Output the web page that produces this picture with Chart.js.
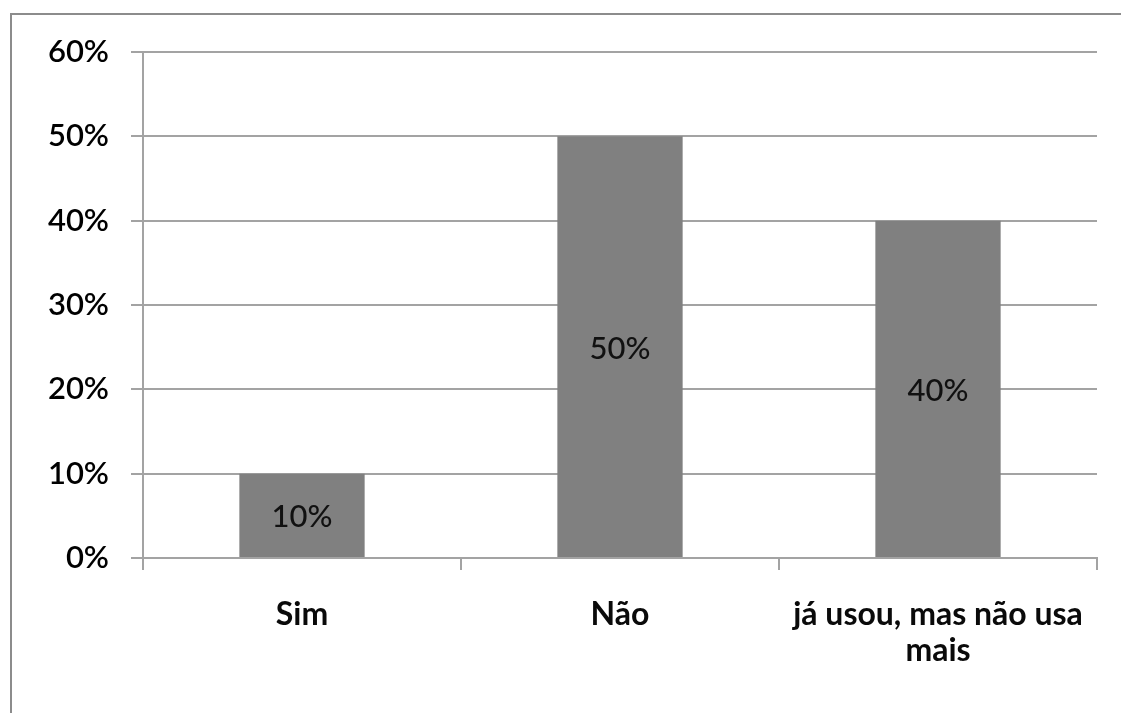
<!DOCTYPE html>
<html>
<head>
<meta charset="utf-8">
<script src="https://cdn.jsdelivr.net/npm/chart.js@4"></script>
<style>
  html, body { margin: 0; padding: 0; background: #fff; }
  #wrap { position: relative; width: 1121px; height: 713px; overflow: hidden; }
  #frame { position: absolute; left: 10px; top: 13px; width: 1200px; height: 800px;
           border: 2px solid #8c8c8c; box-sizing: border-box; }
  canvas { position: absolute; left: 0; top: 0; }
</style>
</head>
<body>
<div id="wrap">
  <div id="frame"></div>
  <canvas id="c" width="1121" height="713"></canvas>
</div>
<script>
// Answers and their shares (percent)
const categories = ['Sim', 'Não', ['já usou, mas não usa', 'mais']];
const shares = [10, 50, 40];
const yTicks = [0, 10, 20, 30, 40, 50, 60];

const FONT = 'Lato, "Open Sans", sans-serif';
const GRID = '#a3a3a3';

// Writes each value in the middle of its bar
const barValueLabels = {
  id: 'barValueLabels',
  afterDatasetsDraw(chart) {
    const ctx = chart.ctx;
    const meta = chart.getDatasetMeta(0);
    ctx.save();
    ctx.font = '500 31px ' + FONT;
    ctx.fillStyle = '#111';
    ctx.textAlign = 'center';
    ctx.textBaseline = 'middle';
    meta.data.forEach((bar, i) => {
      const p = bar.getProps(['x', 'y', 'base'], true);
      ctx.fillText(shares[i] + '%', p.x, (p.y + p.base) / 2 + 2);
    });
    ctx.restore();
  }
};

new Chart(document.getElementById('c'), {
  type: 'bar',
  data: {
    labels: categories,
    datasets: [{
      data: shares,
      backgroundColor: '#808080',
      borderWidth: 0,
      categoryPercentage: 1,
      barPercentage: 0.394
    }]
  },
  options: {
    responsive: false,
    animation: false,
    devicePixelRatio: 1,
    layout: { padding: { left: 0, top: 52, right: 24, bottom: 0 } },
    plugins: { legend: { display: false }, tooltip: { enabled: false } },
    scales: {
      x: {
        offset: true,
        afterFit(s) { s.height = 155; },
        grid: { display: true, drawOnChartArea: false, drawTicks: true, tickLength: 12,
                offset: true, color: GRID, lineWidth: 2 },
        border: { display: true, color: GRID, width: 2 },
        ticks: { color: '#0a0a0a', padding: 26, maxRotation: 0, autoSkip: false,
                 font: { family: FONT, size: 32, weight: 'bold', lineHeight: 1.14 } }
      },
      y: {
        min: 0, max: 60,
        afterFit(s) { s.width = 143; },
        afterBuildTicks(s) { s.ticks = yTicks.map(v => ({ value: v })); },
        grid: { color: GRID, lineWidth: 2, drawTicks: true, tickLength: 12 },
        border: { display: true, color: GRID, width: 2 },
        ticks: { color: '#000', padding: 22, callback: v => v + '%',
                 font: { family: FONT, size: 31, weight: 600 } }
      }
    }
  },
  plugins: [barValueLabels]
});
</script>
</body>
</html>
